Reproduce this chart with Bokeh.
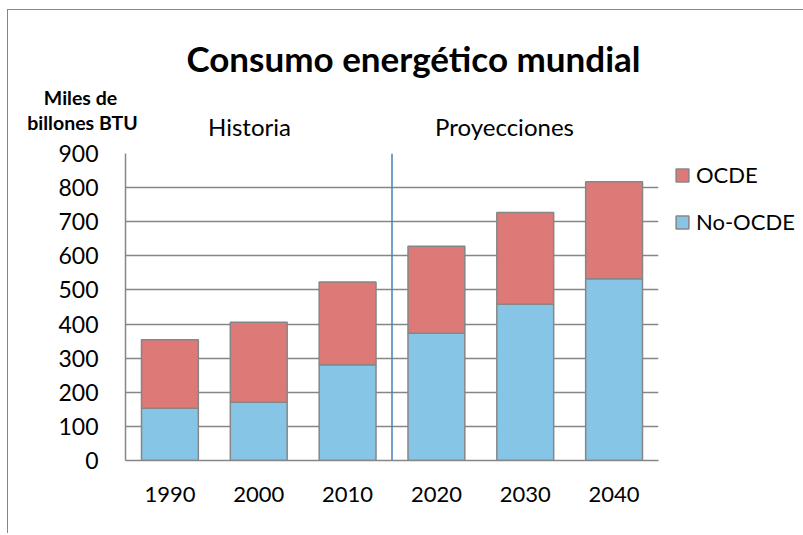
from bokeh.plotting import figure
from bokeh.models import (FactorRange, Range1d, SingleIntervalTicker, Span, Label,
                          Legend, LegendItem, ColumnDataSource)
from bokeh.embed import file_html
from bokeh.resources import INLINE

years = ["1990", "2000", "2010", "2020", "2030", "2040"]
no_ocde = [153, 171, 281, 373, 458, 533]
ocde_total = [354, 405, 523, 628, 727, 817]
ocde = [t - n for t, n in zip(ocde_total, no_ocde)]
series = ["No-OCDE", "OCDE"]
colors = ["#87C5E6", "#DD7977"]
y_ticks_interval = 100
title_text = "Consumo energético mundial"
ylabel_lines = ["Miles de", "billones BTU"]
period_labels = ["Historia", "Proyecciones"]

FONT = "Lato"
GRAY = "#868686"

src = ColumnDataSource(data={"year": years, "No-OCDE": no_ocde, "OCDE": ocde})

p = figure(frame_width=533, frame_height=307,
           x_range=FactorRange(factors=years, range_padding=0),
           y_range=Range1d(0, 900), output_backend="svg", toolbar_location=None,
           min_border_left=117, min_border_right=140, min_border_top=143, min_border_bottom=73)
p.outline_line_color = None
p.background_fill_color = "white"
p.border_fill_color = "white"
p.styles = {"margin-left": "7px", "margin-top": "9px",
            "border-top": "1px solid #868686", "border-left": "1px solid #868686"}

rs = p.vbar_stack(series, x="year", width=0.64, source=src, color=colors,
                  line_color=GRAY, line_width=1.5)

# axes
p.yaxis.ticker = SingleIntervalTicker(interval=y_ticks_interval)
for ax in (p.xaxis[0], p.yaxis[0]):
    ax.major_tick_line_color = None
    ax.minor_tick_line_color = None
    ax.axis_line_color = GRAY
    ax.axis_line_width = 1.5
    ax.major_label_text_font = FONT
    ax.major_label_text_color = "black"
p.yaxis.major_label_text_font_size = "23px"
p.xaxis.major_label_text_font_size = "22px"
p.yaxis.major_label_standoff = 21
p.xaxis.major_label_standoff = 20
p.xgrid.grid_line_color = None
p.ygrid.grid_line_color = GRAY
p.ygrid.grid_line_width = 1.5
p.ygrid.ticker = SingleIntervalTicker(interval=y_ticks_interval)

# divider between history and projections
p.add_layout(Span(location=3, dimension="height", line_color="#4A7EBB", line_width=1.5))

def add_text(txt, x, y, size, bold=False, side="above"):
    p.add_layout(Label(x=x, y=y, x_units="canvas", y_units="canvas", text=txt,
                       text_font=FONT, text_font_style="bold" if bold else "normal",
                       text_color="black",
                       text_font_size=size, text_align="center", text_baseline="middle"),
                 side)

add_text(title_text, 404, 46, "35px", bold=True)
add_text(ylabel_lines[0], 71, 86, "19.5px", bold=True, side="below")
add_text(ylabel_lines[1], 73, 111, "19.5px", bold=True)
add_text(period_labels[0], 240, 115, "24px")
add_text(period_labels[1], 495, 115, "24px")

legend = Legend(items=[LegendItem(label="OCDE", renderers=[rs[1]]),
                       LegendItem(label="No-OCDE", renderers=[rs[0]])],
                location=(16, 225), padding=0, margin=0, spacing=20,
                glyph_width=16, glyph_height=16, label_height=24, label_standoff=6,
                label_text_font=FONT, label_text_font_size="22px", label_text_color="black",
                border_line_color=None, background_fill_alpha=0)
p.add_layout(legend, "right")

open("out.html", "w").write(file_html(p, INLINE))
